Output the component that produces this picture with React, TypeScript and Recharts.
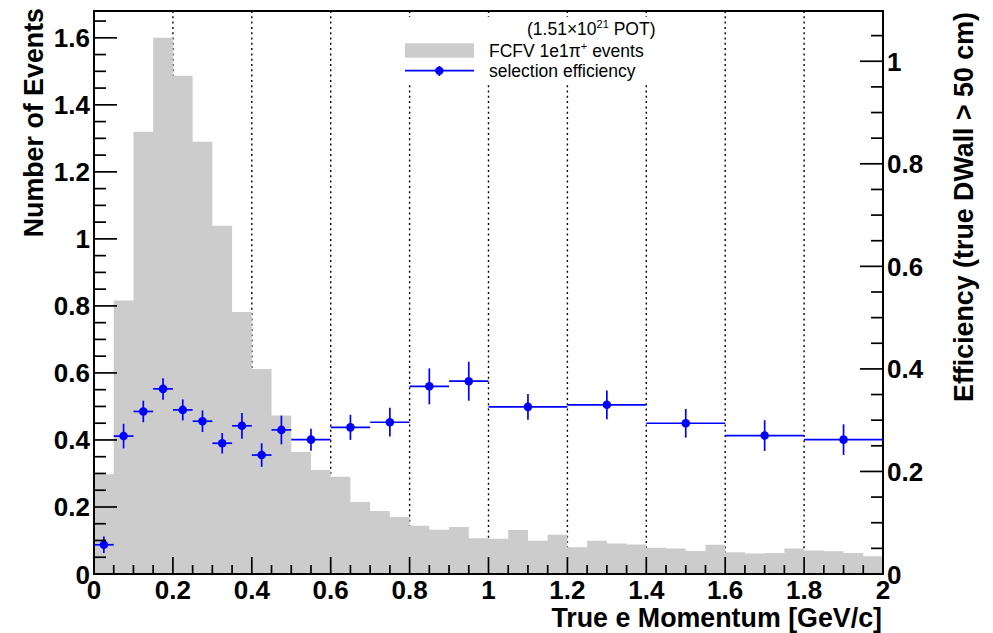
import {
  Area,
  CartesianGrid,
  ComposedChart,
  ErrorBar,
  Label,
  Legend,
  ReferenceArea,
  Scatter,
  XAxis,
  YAxis,
} from "recharts";

// histogram: 40 bins of 0.05 GeV/c
const binLowEdges = [
  0, 0.05, 0.1, 0.15, 0.2, 0.25, 0.3, 0.35, 0.4, 0.45,
  0.5, 0.55, 0.6, 0.65, 0.7, 0.75, 0.8, 0.85, 0.9, 0.95,
  1, 1.05, 1.1, 1.15, 1.2, 1.25, 1.3, 1.35, 1.4, 1.45,
  1.5, 1.55, 1.6, 1.65, 1.7, 1.75, 1.8, 1.85, 1.9, 1.95,
];
const eventCounts = [
  0.298, 0.816, 1.32, 1.6, 1.487, 1.29, 1.039, 0.782, 0.612, 0.473,
  0.364, 0.31, 0.29, 0.215, 0.188, 0.17, 0.144, 0.132, 0.14, 0.107,
  0.105, 0.131, 0.099, 0.117, 0.0795, 0.099, 0.091, 0.088, 0.078, 0.076,
  0.069, 0.0875, 0.065, 0.061, 0.063, 0.076, 0.07, 0.068, 0.063, 0.053,
];

// selection efficiency, variable bins
const effCenters = [
  0.025, 0.075, 0.125, 0.175, 0.225, 0.275, 0.325, 0.375, 0.425, 0.475,
  0.55, 0.65, 0.75, 0.85, 0.95, 1.1, 1.3, 1.5, 1.7, 1.9,
];
const effHalfWidths = [
  0.025, 0.025, 0.025, 0.025, 0.025, 0.025, 0.025, 0.025, 0.025, 0.025,
  0.05, 0.05, 0.05, 0.05, 0.05, 0.1, 0.1, 0.1, 0.1, 0.1,
];
const effValues = [
  0.057, 0.269, 0.317, 0.361, 0.32, 0.298, 0.255, 0.289, 0.232, 0.281,
  0.262, 0.286, 0.296, 0.366, 0.376, 0.326, 0.33, 0.294, 0.27, 0.262,
];
const effErrors = [
  0.016, 0.024, 0.021, 0.021, 0.0205, 0.021, 0.02, 0.025, 0.023, 0.028,
  0.0215, 0.0245, 0.028, 0.035, 0.038, 0.025, 0.028, 0.028, 0.03, 0.03,
];

const gridValues = [0.2, 0.4, 0.6, 0.8, 1, 1.2, 1.4, 1.6, 1.8];

const X_MAX = 2;
const LEFT_MAX = 1.68;
const RIGHT_MAX = 1.098;

const FONT = "'Liberation Sans', Arial, Helvetica, sans-serif";
const GRAY = "#cccccc";
const BLUE = "#0000ff";

const histData = [
  ...binLowEdges.map((x, i) => ({ x, events: eventCounts[i] })),
  { x: X_MAX, events: eventCounts[eventCounts.length - 1] },
];

const effData = effCenters.map((x, i) => ({
  x,
  eff: effValues[i],
  ex: effHalfWidths[i],
  ey: effErrors[i],
}));

// tick positions every 0.05, labels every 0.2
function steps(max: number) {
  const out: number[] = [];
  for (let i = 0; i * 0.05 <= max + 1e-9; i++) out.push(Math.round(i * 5) / 100);
  return out;
}
const xTicks = steps(X_MAX);
const leftTicks = steps(LEFT_MAX);
const rightTicks = steps(RIGHT_MAX);

const isMajor = (v: number) => Math.abs(v / 0.2 - Math.round(v / 0.2)) < 1e-6;
const fmt = (v: number) => String(+v.toFixed(2));

const tickText = {
  fontFamily: FONT,
  fontWeight: 700,
  fontSize: 26,
  fill: "#000",
};

function LeftTick(props: any) {
  const { x, y, payload } = props;
  const v = payload.value as number;
  const major = isMajor(v);
  const ax = x + 4;
  return (
    <g>
      <line x1={ax} x2={ax + (major ? 23 : 12)} y1={y} y2={y} stroke="#000" strokeWidth={1.7} />
      {major ? (
        <text x={x} y={y} dy={9.5} textAnchor="end" {...tickText}>
          {fmt(v)}
        </text>
      ) : null}
    </g>
  );
}

function RightTick(props: any) {
  const { x, y, payload } = props;
  const v = payload.value as number;
  const major = isMajor(v);
  const ax = x - 4;
  return (
    <g>
      <line x1={ax} x2={ax - (major ? 23 : 12)} y1={y} y2={y} stroke="#000" strokeWidth={1.7} />
      {major ? (
        <text x={x} y={y} dy={9.5} textAnchor="start" {...tickText}>
          {fmt(v)}
        </text>
      ) : null}
    </g>
  );
}

function BottomTick(props: any) {
  const { x, y, payload } = props;
  const v = payload.value as number;
  const major = isMajor(v);
  return (
    <g>
      <line x1={x} x2={x} y1={y} y2={y - (major ? 17 : 9)} stroke="#000" strokeWidth={1.7} />
      {major ? (
        <text x={x} y={y} dy={25} textAnchor="middle" {...tickText}>
          {fmt(v)}
        </text>
      ) : null}
    </g>
  );
}

function LegendBox() {
  const txt = { fontFamily: FONT, fontSize: 17.5, fill: "#000" };
  return (
    <svg width={262} height={67} style={{ display: "block" }}>
      <rect x={7} y={26.3} width={69} height={14.4} fill={GRAY} />
      <line x1={7} x2={76} y1={53.7} y2={53.7} stroke={BLUE} strokeWidth={1.7} />
      <line x1={41.3} x2={41.3} y1={49} y2={59} stroke={BLUE} strokeWidth={1.7} />
      <circle cx={41.3} cy={53.7} r={4.2} fill={BLUE} />
      <text x={129} y={18} {...txt}>
        (1.51×10
        <tspan dy={-7} fontSize={11}>21</tspan>
        <tspan dy={7}> POT)</tspan>
      </text>
      <text x={91} y={39.7} {...txt}>
        FCFV 1e1π
        <tspan dy={-7} fontSize={11}>+</tspan>
        <tspan dy={7}> events</tspan>
      </text>
      <text x={91} y={59.5} {...txt}>
        selection efficiency
      </text>
    </svg>
  );
}

const titleText = {
  fontFamily: FONT,
  fontWeight: 700,
  fontSize: 26.8,
  fill: "#000",
};

export default function App() {
  return (
    <div style={{ position: "absolute", left: 0, top: 0, width: 993, height: 633, background: "#fff" }}>
      <ComposedChart
        width={993}
        height={633}
        data={histData}
        margin={{ top: 11, right: 0, bottom: 0, left: 0 }}
      >
        <CartesianGrid
          yAxisId="left"
          horizontal={false}
          verticalValues={gridValues}
          stroke="#000"
          strokeWidth={1.4}
          strokeDasharray="2 3.3"
        />
        <XAxis
          dataKey="x"
          type="number"
          domain={[0, X_MAX]}
          allowDataOverflow
          ticks={xTicks}
          interval={0}
          height={59}
          tickSize={0}
          tickMargin={0}
          tickLine={false}
          axisLine={false}
          tick={(p: any) => <BottomTick {...p} />}
        >
          <Label
            content={() => (
              <text x={882} y={627} textAnchor="end" {...titleText}>
                True e Momentum [GeV/c]
              </text>
            )}
          />
        </XAxis>
        <YAxis
          yAxisId="left"
          orientation="left"
          type="number"
          domain={[0, LEFT_MAX]}
          allowDataOverflow
          ticks={leftTicks}
          interval={0}
          width={94}
          tickSize={0}
          tickMargin={4}
          tickLine={false}
          axisLine={false}
          tick={(p: any) => <LeftTick {...p} />}
        >
          <Label
            content={() => (
              <text x={43} y={8} textAnchor="end" transform="rotate(-90 43 8)" {...titleText}>
                Number of Events
              </text>
            )}
          />
        </YAxis>
        <YAxis
          yAxisId="right"
          orientation="right"
          type="number"
          domain={[0, RIGHT_MAX]}
          allowDataOverflow
          ticks={rightTicks}
          interval={0}
          width={110}
          tickSize={0}
          tickMargin={4}
          tickLine={false}
          axisLine={false}
          tick={(p: any) => <RightTick {...p} />}
        >
          <Label
            content={() => (
              <text x={973} y={12} textAnchor="end" transform="rotate(-90 973 12)" {...titleText}>
                Efficiency (true DWall &gt; 50 cm)
              </text>
            )}
          />
        </YAxis>
        <Area
          yAxisId="left"
          type="stepAfter"
          dataKey="events"
          fill={GRAY}
          fillOpacity={1}
          stroke="none"
          isAnimationActive={false}
          dot={false}
          activeDot={false}
        />
        <Scatter
          yAxisId="right"
          data={effData}
          dataKey="eff"
          fill={BLUE}
          isAnimationActive={false}
          shape={(p: any) => <circle cx={p.cx} cy={p.cy} r={4.3} fill={BLUE} />}
        >
          <ErrorBar dataKey="ey" direction="y" width={0} stroke={BLUE} strokeWidth={1.7} isAnimationActive={false} />
          <ErrorBar dataKey="ex" direction="x" width={0} stroke={BLUE} strokeWidth={1.7} isAnimationActive={false} />
        </Scatter>
        <ReferenceArea
          yAxisId="left"
          x1={0}
          x2={X_MAX}
          y1={0}
          y2={LEFT_MAX}
          fill="none"
          stroke="#000"
          strokeWidth={2}
        />
        <Legend
          layout="horizontal"
          verticalAlign="middle"
          align="center"
          content={() => <LegendBox />}
          wrapperStyle={{ position: "absolute", left: 398, top: 17, width: 262, height: 67, background: "#fff" }}
        />
      </ComposedChart>
    </div>
  );
}
